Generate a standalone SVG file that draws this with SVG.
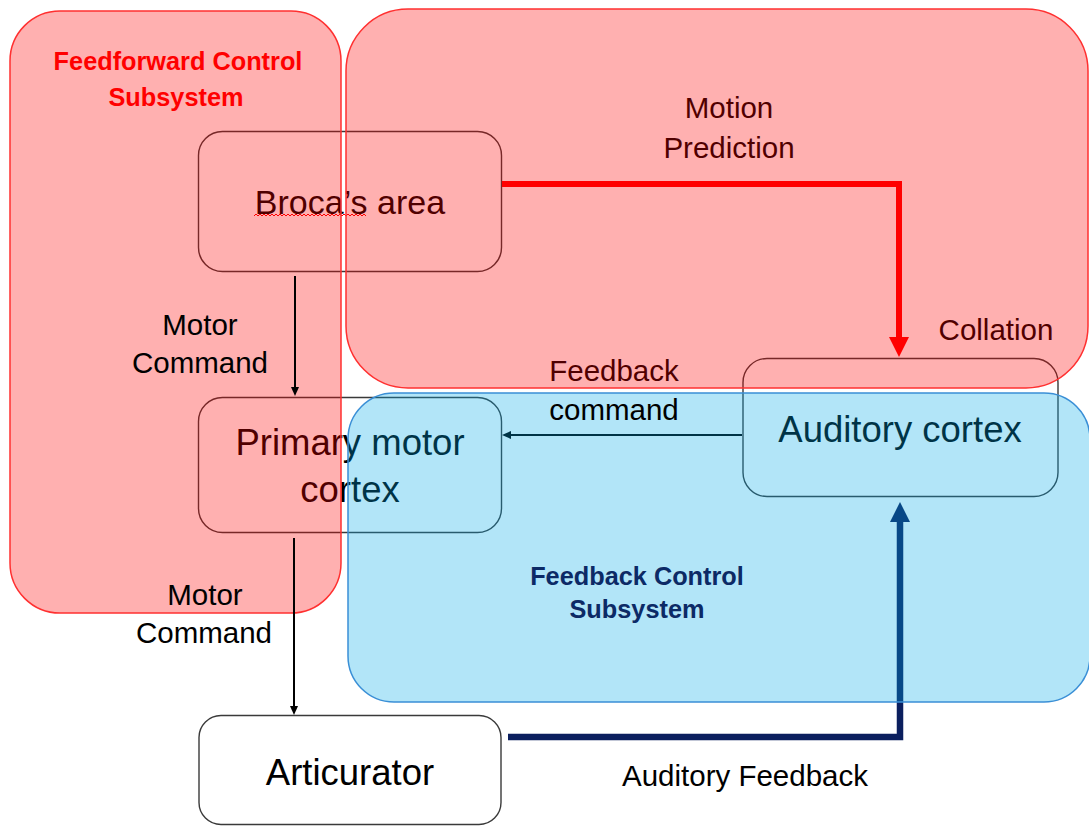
<svg xmlns="http://www.w3.org/2000/svg" width="1089" height="826" viewBox="0 0 1089 826">
<style>
text{font-family:"Liberation Sans",Arial,sans-serif;text-anchor:middle;fill:#000}
.node{fill:none;stroke:#3a3a3a;stroke-width:1.4}
.nt{font-size:36.5px}
.lbl{font-size:29.5px}
.sub{font-size:25.3px;font-weight:bold}
.red-ov{fill:#ff0000;fill-opacity:0.31;stroke:#ff3030;stroke-width:1.5}
.blue-ov{fill:#00a8e8;fill-opacity:0.3;stroke:#3a8fd6;stroke-width:1.5}
.thin{fill:none;stroke:#000;stroke-width:2}
</style>
<defs>
<marker id="ah-thin" markerUnits="userSpaceOnUse" markerWidth="10" markerHeight="10" refX="0" refY="4" orient="auto"><path d="M0,0 L9,4 L0,8 z" fill="#000"/></marker>
<marker id="ah-red" markerUnits="userSpaceOnUse" markerWidth="21" markerHeight="21" refX="0" refY="10" orient="auto"><path d="M0,0 L20,10 L0,20 z" fill="#ff0000"/></marker>
<marker id="ah-navy" markerUnits="userSpaceOnUse" markerWidth="21" markerHeight="21" refX="0" refY="10" orient="auto"><path d="M0,0 L20,10 L0,20 z" fill="#0b1f5e"/></marker>
</defs>
<rect width="1089" height="826" fill="#fff"/>

<g id="broca">
<rect class="node" x="198.5" y="131.5" width="303" height="140" rx="24"/>
<text x="350" y="214" style="font-size:34px">Broca’s area</text>
<path d="M254,216 l2,-2 l2,2 l2,-2 l2,2 l2,-2 l2,2 l2,-2 l2,2 l2,-2 l2,2 l2,-2 l2,2 l2,-2 l2,2 l2,-2 l2,2 l2,-2 l2,2 l2,-2 l2,2 l2,-2 l2,2 l2,-2 l2,2 l2,-2 l2,2 l2,-2 l2,2 l2,-2 l2,2 l2,-2 l2,2 l2,-2 l2,2 l2,-2 l2,2 l2,-2 l2,2 l2,-2 l2,2 l2,-2 l2,2 l2,-2 l2,2 l2,-2 l2,2 l2,-2 l2,2 l2,-2 l2,2 l2,-2 l2,2 l2,-2 l2,2 l2,-2 l2,2" fill="none" stroke="#ff0000" stroke-width="1"/>
</g>
<g id="primary-motor-cortex">
<rect class="node" x="198.5" y="397.5" width="303" height="135" rx="24"/>
<text class="nt" x="350" y="455">Primary motor</text>
<text class="nt" x="350" y="502">cortex</text>
</g>
<g id="auditory-cortex">
<rect class="node" x="743" y="358.5" width="315" height="138" rx="24"/>
<text class="nt" x="900" y="442">Auditory cortex</text>
</g>
<g id="articurator">
<rect x="199" y="715.5" width="302" height="109" rx="22" fill="#fff" stroke="#3a3a3a" stroke-width="1.4"/>
<text class="nt" x="350" y="785">Articurator</text>
</g>

<g id="connectors">
<path d="M502,184 H899 V337" fill="none" stroke="#ff0000" stroke-width="6" marker-end="url(#ah-red)"/>
<path d="M508,737 H900 V522" fill="none" stroke="#0b1f5e" stroke-width="6.5" marker-end="url(#ah-navy)"/>
<path class="thin" d="M742,435 H511" marker-end="url(#ah-thin)"/>
</g>

<g id="labels-under">
<text class="lbl" x="729" y="118">Motion</text>
<text class="lbl" x="729" y="158">Prediction</text>
<text class="lbl" x="996" y="340">Collation</text>
<text class="lbl" x="614" y="381">Feedback</text>
</g>

<g id="feedforward-subsystem">
<rect class="red-ov" x="10" y="11" width="331" height="602" rx="50"/>
</g>
<g id="prediction-subsystem">
<rect class="red-ov" x="346" y="9" width="742" height="379" rx="62"/>
</g>
<g id="feedback-subsystem">
<rect class="blue-ov" x="348" y="393" width="742" height="309" rx="46"/>
</g>

<g id="connectors-front">
<path class="thin" d="M295,276 V387" marker-end="url(#ah-thin)"/>
<path class="thin" d="M294,538 V706" marker-end="url(#ah-thin)"/>
</g>

<g id="labels-front">
<text class="lbl" x="200" y="335">Motor</text>
<text class="lbl" x="200" y="373">Command</text>
<text class="lbl" x="205" y="605">Motor</text>
<text class="lbl" x="204" y="643">Command</text>
<text class="lbl" x="614" y="420">command</text>
<text class="lbl" x="745" y="786">Auditory Feedback</text>
<text class="sub" x="178" y="70" style="fill:#ff0000">Feedforward Control</text>
<text class="sub" x="176" y="106" style="fill:#ff0000">Subsystem</text>
<text class="sub" x="637" y="585" style="fill:#0c2a66">Feedback Control</text>
<text class="sub" x="637" y="618" style="fill:#0c2a66">Subsystem</text>
</g>
</svg>
